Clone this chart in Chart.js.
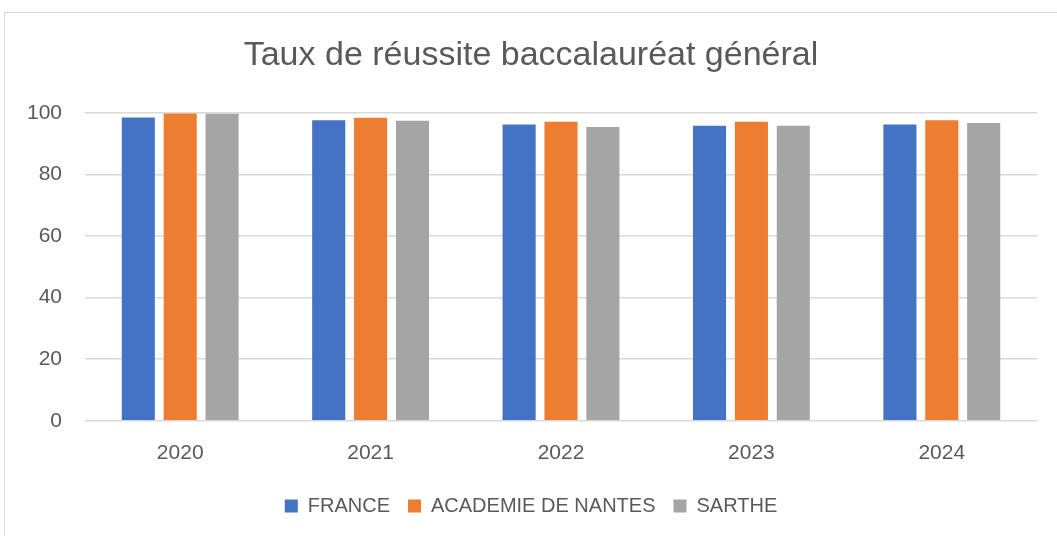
<!DOCTYPE html>
<html>
<head>
<meta charset="utf-8">
<script src="https://cdn.jsdelivr.net/npm/chart.js@4/dist/chart.umd.min.js"></script>
<style>
  html, body { margin: 0; padding: 0; background: #fff; }
  #wrap { position: relative; width: 1057px; height: 536px; overflow: hidden; }
  #frame { position: absolute; left: 4px; top: 12px; width: 1070px; height: 540px; border: 1px solid #d9d9d9; box-sizing: border-box; }
  canvas { position: absolute; left: 0; top: 0; }
</style>
</head>
<body>
<div id="wrap">
  <div id="frame"></div>
  <canvas id="chart" width="1057" height="536"></canvas>
</div>
<script>
const years = ['2020', '2021', '2022', '2023', '2024'];
const france = [98.5, 97.6, 96.2, 95.8, 96.2];
const nantes = [99.8, 98.4, 97.1, 97.1, 97.6];
const sarthe = [99.7, 97.4, 95.4, 95.8, 96.7];
const yTicks = [0, 20, 40, 60, 80, 100];

const FONT = "'Liberation Sans', Arial, sans-serif";
const GREY = '#595959';

function dataset(label, values, colour) {
    return {
        label: label,
        data: values,
        backgroundColor: colour,
        borderWidth: 0,
        categoryPercentage: 0.66,
        barPercentage: 0.79
    };
}

let config = {
    type: 'bar',
    data: {
        labels: years,
        datasets: [
            dataset('FRANCE', france, '#4472c4'),
            dataset('ACADEMIE DE NANTES', nantes, '#ed7d31'),
            dataset('SARTHE', sarthe, '#a5a5a5')
        ]
    },
    options: {
        responsive: false,
        animation: false,
        // left padding nudges title and legend to the right
        layout: { padding: { left: 25, right: 20, top: 0, bottom: 10 } },
        plugins: {
            title: {
                display: true,
                text: 'Taux de réussite baccalauréat général',
                color: GREY,
                font: { family: FONT, size: 34, weight: 'normal' },
                padding: { top: 35, bottom: 37 }
            },
            legend: {
                position: 'bottom',
                labels: {
                    color: GREY,
                    font: { family: FONT, size: 20 },
                    boxWidth: 13,
                    boxHeight: 13,
                    padding: 18
                }
            },
            tooltip: { enabled: false }
        },
        scales: {
            x: {
                grid: { display: false },
                border: { display: false },
                ticks: { color: GREY, font: { family: FONT, size: 21 }, padding: 12 }
            },
            y: {
                min: 0,
                max: 100,
                afterBuildTicks: function (axis) {
                    axis.ticks = yTicks.map(v => ({ value: v }));
                },
                afterFit: function (axis) { axis.width = 60; },
                grid: { color: '#d9d9d9', lineWidth: 1.5, drawTicks: false },
                border: { display: false },
                ticks: { color: GREY, font: { family: FONT, size: 21 }, padding: 23 }
            }
        }
    }
};

new Chart(document.getElementById('chart'), config);
</script>
</body>
</html>
